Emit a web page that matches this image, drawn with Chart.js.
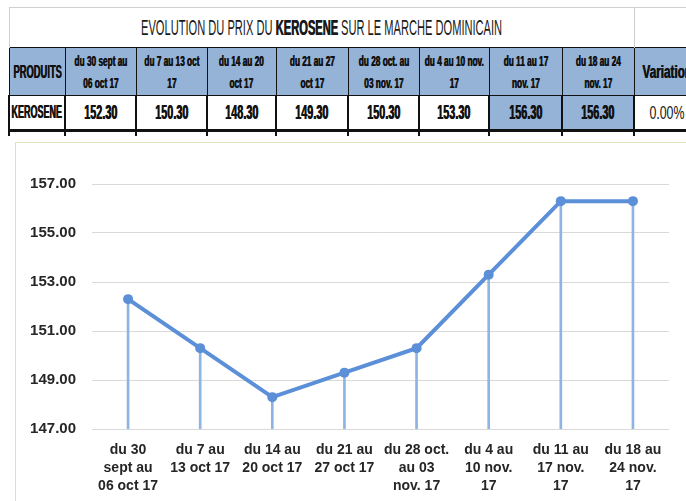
<!DOCTYPE html>
<html>
<head>
<meta charset="utf-8">
<script src="https://cdn.jsdelivr.net/npm/chart.js@4"></script>
<style>
  html, body { margin: 0; padding: 0; background: #fff; }
  body { width: 686px; height: 501px; overflow: hidden; position: relative; }
  #tableau {
    position: absolute; left: 8px; top: 7px; width: 691px;
    border-collapse: collapse; table-layout: fixed;
    font-family: "Liberation Sans", Arial, sans-serif;
    color: #111;
  }
  #tableau td { padding: 0; overflow: hidden; }
  #tableau td .c { display: flex; justify-content: center; align-items: center; height: 100%; }
  #tableau td .c span { white-space: nowrap; text-align: center; display: inline-block; }
  #tableau .titre td { height: 39px; border-top: 1px solid #cfcfcf; font-size: 22px; color: #1a1a1a; }
  #tableau .titre td:first-child { border-left: 1px solid #cfcfcf; }
  #tableau .titre td.sep { border-left: 1px solid #cfcfcf; }
  #tableau .titre span { transform: scaleX(0.505); }
  #tableau .titre b { text-shadow: 1px 0 0 #1a1a1a; }
  #tableau .entete td {
    height: 47px; background: #95b3d7; border: 1px solid #111;
    font-size: 14px; font-weight: bold; line-height: 22px;
  }
  #tableau .entete span { transform: scaleX(0.59); text-shadow: 0.8px 0 0 #111; }
  #tableau .entete td.big { font-size: 18px; }
  #tableau .entete td.big span { transform: scaleX(0.52); }
  #tableau .entete td.var { font-size: 18px; }
  #tableau .entete td.var span { transform: scaleX(0.65); }
  #tableau .valeurs td {
    height: 33px; border-left: 2px solid #111; border-right: 2px solid #111;
    border-top: 1px solid #111; border-bottom: 3px solid #111;
    font-size: 20px; font-weight: bold;
  }
  #tableau .valeurs span { transform: scaleX(0.54); text-shadow: 1px 0 0 #111; }
  #tableau .valeurs td.nom { font-size: 18px; }
  #tableau .valeurs td.nom span { transform: scaleX(0.5); }
  #tableau .valeurs td.bleu { background: #95b3d7; }
  #tableau .valeurs td.var { font-weight: normal; font-size: 19px; }
  #tableau .valeurs td.var span { transform: scaleX(0.65); text-shadow: none; }
  #tableau .suite td { height: 4px; border-left: 2px solid #111; border-right: 2px solid #111; }
  #tableau .suite td.brun { border-top: 2px solid #d8a98a; }
  #cadre {
    position: absolute; left: 15px; top: 142px; width: 700px; height: 380px;
    border: 1px solid #d7e4bd; background: #fff;
  }
  #chart { position: absolute; left: 0; top: 0; }
</style>
</head>
<body>
<table id="tableau"></table>
<div id="cadre"><canvas id="chart" width="670" height="358"></canvas></div>
<script>
// ==========================================
// DONNEES
// ==========================================
const produit = 'KEROSENE';
const periodesTableau = [
  ['du 30 sept au', '06 oct 17'],
  ['du 7 au 13 oct', '17'],
  ['du 14 au 20', 'oct 17'],
  ['du 21 au 27', 'oct 17'],
  ['du 28 oct. au', '03 nov. 17'],
  ['du 4 au 10 nov.', '17'],
  ['du 11 au 17', 'nov. 17'],
  ['du 18 au 24', 'nov. 17']
];
const periodesAxe = [
  ['du 30', 'sept au', '06 oct 17'],
  ['du 7 au', '13 oct 17'],
  ['du 14 au', '20 oct 17'],
  ['du 21 au', '27 oct 17'],
  ['du 28 oct.', 'au 03', 'nov. 17'],
  ['du 4 au', '10 nov.', '17'],
  ['du 11 au', '17 nov.', '17'],
  ['du 18 au', '24 nov.', '17']
];
const prix = [152.30, 150.30, 148.30, 149.30, 150.30, 153.30, 156.30, 156.30];
const variation = '0.00%';
const yMin = 147;
const yMax = 157;
const yPas = 2;

// ==========================================
// TABLEAU
// ==========================================
function cell(txt, cls = '', extra = '') {
  return `<td class="${cls}" ${extra}><div class="c"><span>${txt}</span></div></td>`;
}

function buildTable() {
  const largeurs = [56, 71, 71, 69, 72, 71, 70, 73, 72, 66];
  const t = document.getElementById('tableau');
  let html = '<colgroup>' + largeurs.map(w => `<col style="width:${w}px">`).join('') + '</colgroup>';
  html += '<tr class="titre">' +
    cell(`EVOLUTION DU PRIX DU <b>${produit}</b> SUR LE MARCHE DOMINICAIN`, '', 'colspan="9"') +
    '<td class="sep"></td></tr>';
  html += '<tr class="entete">' + cell('PRODUITS', 'big') +
    periodesTableau.map(p => cell(p.join('<br>'))).join('') +
    cell('Variation', 'var') + '</tr>';
  html += '<tr class="valeurs">' + cell(produit, 'nom') +
    prix.map((v, i) => cell(v.toFixed(2), i >= 6 ? 'bleu' : '')).join('') +
    cell(variation, 'var') + '</tr>';
  html += '<tr class="suite">' + largeurs.map((w, i) => `<td class="${i >= 6 && i <= 8 ? 'brun' : ''}"></td>`).join('') + '</tr>';
  t.innerHTML = html;
}

// ==========================================
// GRAPHIQUE
// ==========================================
function initChart() {
  const ctx = document.getElementById('chart').getContext('2d');
  const police = "'Liberation Sans', Arial, sans-serif";

  new Chart(ctx, {
    type: 'line',
    data: {
      labels: periodesAxe,
      datasets: [
        {
          type: 'line',
          data: prix,
          borderColor: '#5b8fd8',
          borderWidth: 4,
          pointRadius: 5,
          pointBackgroundColor: '#5b8fd8',
          pointBorderWidth: 0,
          tension: 0,
          order: 0
        },
        {
          // lignes de projection (drop lines)
          type: 'bar',
          data: prix,
          backgroundColor: '#8db4e2',
          barThickness: 2,
          order: 1
        }
      ]
    },
    options: {
      responsive: false,
      animation: false,
      layout: { padding: { top: 41, right: 17, left: 0, bottom: 0 } },
      plugins: { legend: { display: false }, tooltip: { enabled: false } },
      scales: {
        x: {
          offset: true,
          grid: { display: false, drawTicks: false },
          border: { display: false },
          ticks: {
            autoSkip: false, maxRotation: 0, padding: 12,
            color: '#262626',
            font: { family: police, size: 14, weight: 'bold', lineHeight: 1.3 }
          },
          afterFit: s => { s.height = 72; }
        },
        y: {
          min: yMin, max: yMax,
          grid: { color: '#d9d9d9', lineWidth: 1, drawTicks: false },
          border: { display: false },
          ticks: {
            stepSize: yPas, padding: 16,
            color: '#262626',
            font: { family: police, size: 15, weight: 'bold' },
            callback: v => Number(v).toFixed(2)
          },
          afterFit: s => { s.width = 76; }
        }
      }
    }
  });
}

document.addEventListener('DOMContentLoaded', () => {
  buildTable();
  initChart();
});
</script>
</body>
</html>
